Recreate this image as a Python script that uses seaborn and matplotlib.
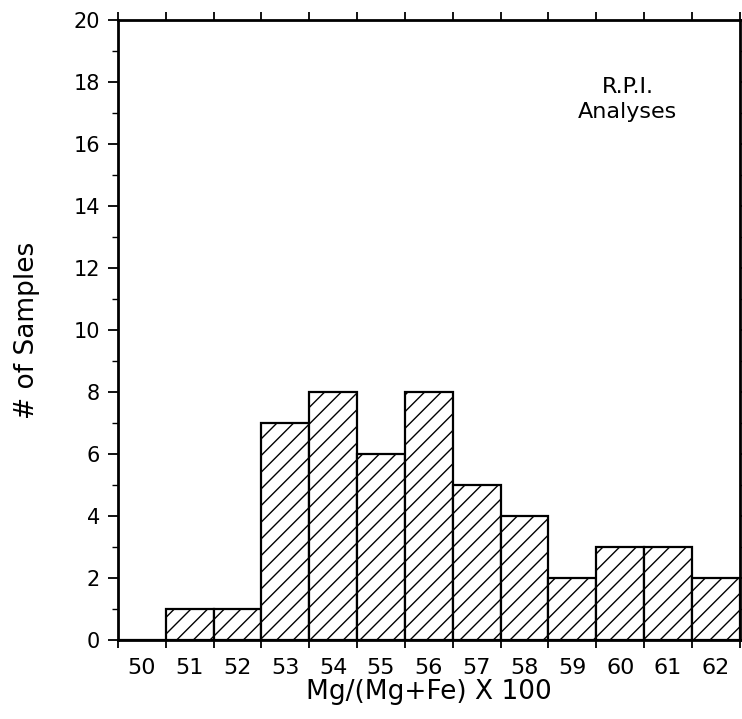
import numpy as np
import pandas as pd
import matplotlib
matplotlib.use("Agg")
import matplotlib.pyplot as plt
import seaborn as sns

# Data
bin_centers = [50, 51, 52, 53, 54, 55, 56, 57, 58, 59, 60, 61, 62]
counts = [0, 1, 1, 7, 8, 6, 8, 5, 4, 2, 3, 3, 2]
xlabel = "Mg/(Mg+Fe) X 100"
ylabel = "# of Samples"
annotation = "R.P.I.\nAnalyses"

sns.set_theme(style="white")
plt.rcParams['font.family'] = ['DejaVu Sans']
plt.rcParams['hatch.linewidth'] = 1.0
plt.rcParams['text.color'] = 'black'
plt.rcParams['axes.labelcolor'] = 'black'
plt.rcParams['xtick.color'] = 'black'
plt.rcParams['ytick.color'] = 'black'

df = pd.DataFrame({"x": bin_centers, "n": counts})

fig = plt.figure(figsize=(7.42, 7.19), dpi=100)
ax = fig.add_axes([0.159, 0.110, 0.838, 0.862])

sns.histplot(data=df, x="x", weights="n", discrete=True, ax=ax,
             color="white", edgecolor="black", linewidth=1.6,
             hatch="//", alpha=1.0)

ax.set_xlim(49.5, 62.45)
ax.set_ylim(0, 20)

edges = np.arange(49.5, 63.0, 1.0)
# x ticks: marks at bin edges, labels at centers
ax.set_xticks(edges)
ax.set_xticklabels([])
ax.set_xticks(bin_centers, minor=True)
ax.set_xticklabels([str(v) for v in bin_centers], minor=True)
ax.tick_params(axis='x', which='minor', length=0, labelsize=16, pad=13)
ax.tick_params(axis='x', which='major', direction='out', length=6, width=1.3,
               top=True, bottom=True)

# y ticks
ax.set_yticks(np.arange(0, 21, 2))
ax.set_yticks(np.arange(1, 20, 2), minor=True)
ax.tick_params(axis='y', which='major', direction='out', length=7, width=1.3,
               labelsize=15, left=True, right=True, pad=6)
ax.tick_params(axis='y', which='minor', direction='out', length=4, width=1.0,
               left=True, right=True)

for s in ax.spines.values():
    s.set_visible(True)
    s.set_color('black')
    s.set_linewidth(2.0)

ax.set_xlabel(xlabel, fontsize=19, labelpad=1)
ax.set_ylabel(ylabel, fontsize=19, labelpad=24)

ax.text(0.82, 0.872, annotation, transform=ax.transAxes, ha='center', va='center',
        fontsize=16, linespacing=1.35)

fig.savefig("out.png", dpi=100)
